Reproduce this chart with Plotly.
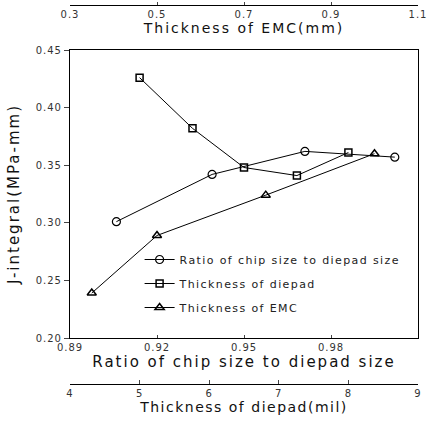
import plotly.graph_objects as go

# Ratio of chip size to diepad size (bottom axis 1)
ratio_x = [0.906, 0.939, 0.971, 1.002]
ratio_j = [0.301, 0.342, 0.362, 0.357]

# Thickness of diepad (mil) (bottom axis 2)
diepad_x = [5.0, 5.76, 6.5, 7.26, 8.0]
diepad_j = [0.426, 0.382, 0.348, 0.341, 0.361]

# Thickness of EMC (mm) (top axis)
emc_x = [0.35, 0.50, 0.75, 1.00]
emc_j = [0.239, 0.289, 0.324, 0.360]

ratio_ticks = [0.89, 0.92, 0.95, 0.98, 1.01]
ratio_labels = ["0.89", "0.92", "0.95", "0.98", "1.01"]
diepad_ticks = [4, 5, 6, 7, 8, 9]
emc_ticks = [0.3, 0.5, 0.7, 0.9, 1.1]
j_ticks = [0.20, 0.25, 0.30, 0.35, 0.40, 0.45]

FONT = "DejaVu Sans"
W, H = 428, 426
ML, MR, MT, MB = 70, 10, 0, 10
ph = H - MT - MB

def py(pix):
    return (H - MB - pix) / ph

fig = go.Figure()
line = dict(color="black", width=1)
fig.add_trace(go.Scatter(x=ratio_x, y=ratio_j, mode="lines+markers", xaxis="x", yaxis="y",
                         name="Ratio of chip size to diepad size", legendgroup="a",
                         line=line, marker=dict(symbol="circle-open", size=8, color="black", line=dict(width=1.2))))
fig.add_trace(go.Scatter(x=diepad_x, y=diepad_j, mode="lines+markers", xaxis="x2", yaxis="y",
                         name="Thickness of diepad", legendgroup="b",
                         line=line, marker=dict(symbol="square-open", size=7, color="black", line=dict(width=1.5))))
fig.add_trace(go.Scatter(x=emc_x, y=emc_j, mode="lines+markers", xaxis="x3", yaxis="y",
                         name="Thickness of EMC", legendgroup="c",
                         line=line, marker=dict(symbol="triangle-up-open", size=8, color="black", line=dict(width=1.5))))

tickfont = dict(family=FONT, size=10, color="#333")
fig.update_layout(
    width=W, height=H,
    margin=dict(l=ML, r=MR, t=MT, b=MB, autoexpand=False),
    paper_bgcolor="white", plot_bgcolor="white",
    font=dict(family=FONT, color="#111"),
    showlegend=True,
    legend=dict(x=0.20, y=py(245), xanchor="left", yanchor="top",
                font=dict(family=FONT, size=11, color="#222"),
                bgcolor="rgba(0,0,0,0)", traceorder="grouped", tracegroupgap=5,
                itemwidth=30),
    xaxis=dict(domain=[0, 1], range=[0.89, 1.01], tickvals=ratio_ticks, ticktext=ratio_labels,
               ticks="inside", ticklen=3, showline=True, linecolor="black", linewidth=1.2,
               mirror=True, showgrid=False, zeroline=False, tickfont=tickfont,
               title=dict(text="Ratio of chip size to diepad size", font=dict(family=FONT, size=15), standoff=2),
               anchor="y"),
    xaxis2=dict(domain=[0, 1], range=[4, 9], tickvals=diepad_ticks, overlaying="x",
                side="bottom", anchor="free", position=py(384),
                ticks="inside", ticklen=4, showline=True, linecolor="black", linewidth=1.2,
                showgrid=False, zeroline=False, tickfont=tickfont,
                title=dict(text="Thickness of diepad(mil)", font=dict(family=FONT, size=14), standoff=2)),
    xaxis3=dict(domain=[0, 1], range=[0.3, 1.1], tickvals=emc_ticks, overlaying="x",
                side="bottom", anchor="free", position=py(5),
                ticks="inside", ticklen=3, showline=True, linecolor="black", linewidth=1.2,
                showgrid=False, zeroline=False, tickfont=tickfont,
                title=dict(text="Thickness of EMC(mm)", font=dict(family=FONT, size=14), standoff=0)),
    yaxis=dict(domain=[py(338), py(50)], range=[0.20, 0.45], tickvals=j_ticks, tickformat=".2f",
               ticks="outside", ticklen=5, showline=True, linecolor="black", linewidth=1.2,
               mirror=True, showgrid=False, zeroline=False, tickfont=tickfont,
               title=dict(text="J-integral(MPa-mm)", font=dict(family=FONT, size=15), standoff=16)),
)

post = """
document.body.style.margin = '0px';
var st = document.createElement('style');
st.textContent = 'text.xtitle, text.x3title {letter-spacing: 2px;} '
  + 'text.x2title {letter-spacing: 1.5px;} '
  + 'text.ytitle {letter-spacing: 2px;} '
  + 'text.legendtext {letter-spacing: 1.4px;} '
  + 'g.legend .scrollbox {clip-path: none !important;} '
  + 'g.xtick text, g.ytick text, g.x2tick text, g.x3tick text {letter-spacing: 1px;}';
document.head.appendChild(st);
"""

fig.write_html("out.html", post_script=post, config={"displayModeBar": False})
